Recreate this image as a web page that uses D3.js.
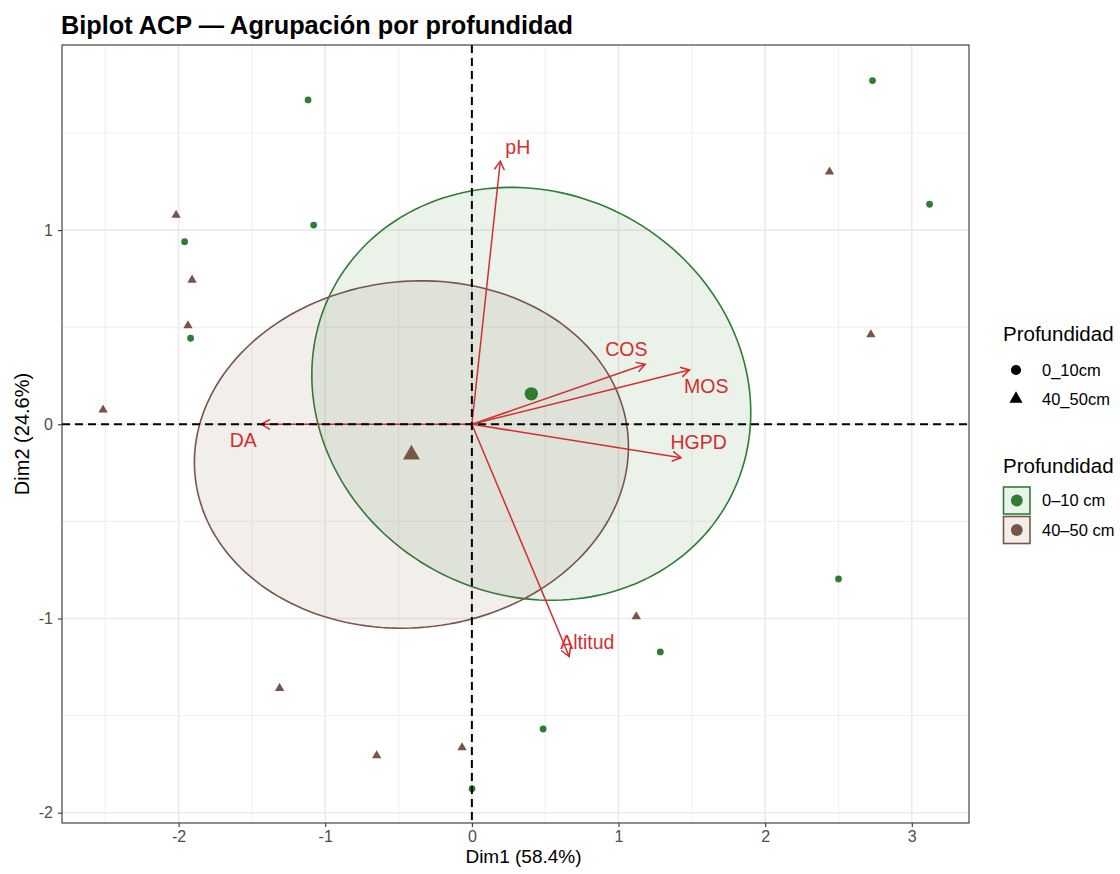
<!DOCTYPE html>
<html>
<head>
<meta charset="utf-8">
<script src="https://cdn.jsdelivr.net/npm/d3@7"></script>
<style>
body { margin: 0; background: #fff; }
text { font-family: "Liberation Sans", Arial, sans-serif; }
</style>
</head>
<body>
<svg id="chart" width="1120" height="874"></svg>
<script>
// individuals (PCA scores), 0-10 cm
var topX = [2.732, 3.121, -1.117, -1.079, -1.959, -1.918, 2.500, 1.285, 0.486, 0.001];
var topY = [1.770, 1.133, 1.670, 1.026, 0.940, 0.443, -0.796, -1.172, -1.569, -1.876];
// individuals, 40-50 cm
var deepX = [-2.017, -1.908, -1.936, -2.515, 2.439, 2.721, 1.121, -1.311, -0.649, -0.067];
var deepY = [1.077, 0.743, 0.508, 0.074, 1.300, 0.462, -0.990, -1.359, -1.706, -1.665];

// variables (arrows) and where their labels ended up
var varNames = ["pH", "COS", "MOS", "HGPD", "DA", "Altitud"];
var varX = [0.194, 1.182, 1.484, 1.426, -1.436, 0.664];
var varY = [1.355, 0.309, 0.280, -0.172, 0.000, -1.196];
var labX = [0.313, 1.053, 1.598, 1.546, -1.559, 0.787];
var labY = [1.428, 0.388, 0.199, -0.093, -0.079, -1.119];

// groups + ellipse shape (covariance-like matrix, data units)
var groupNames = ["0–10 cm", "40–50 cm"];
var shapeNames = ["0_10cm", "40_50cm"];
var ellSxx = [2.24, 2.19];
var ellSyy = [1.13, 0.80];
var ellSxy = [-0.145, 0.06];

var xTicks = [-2, -1, 0, 1, 2, 3];
var yTicks = [-2, -1, 0, 1];

var colGreen = "#2E7D32", colBrown = "#795548", colRed = "#D32F2F";
var groupCols = [colGreen, colBrown];

var svg = d3.select("#chart");
var L = 62, R = 969, T = 45, B = 823;

var x = d3.scaleLinear().domain([-2.795, 3.39]).range([L, R]);
var y = d3.scaleLinear().domain([-2.053, 1.953]).range([B, T]);

// panel grid
var grid = svg.append("g");
var xMinor = d3.range(-2.5, 3.4, 1), yMinor = d3.range(-1.5, 1.9, 1);
grid.selectAll(".xm").data(xMinor).enter().append("line")
  .attr("x1", d => x(d)).attr("x2", d => x(d)).attr("y1", T).attr("y2", B)
  .attr("stroke", "#ebebeb").attr("stroke-width", 0.8);
grid.selectAll(".ym").data(yMinor).enter().append("line")
  .attr("y1", d => y(d)).attr("y2", d => y(d)).attr("x1", L).attr("x2", R)
  .attr("stroke", "#ebebeb").attr("stroke-width", 0.8);
grid.selectAll(".xM").data(xTicks).enter().append("line")
  .attr("x1", d => x(d)).attr("x2", d => x(d)).attr("y1", T).attr("y2", B)
  .attr("stroke", "#ebebeb").attr("stroke-width", 1.6);
grid.selectAll(".yM").data(yTicks).enter().append("line")
  .attr("y1", d => y(d)).attr("y2", d => y(d)).attr("x1", L).attr("x2", R)
  .attr("stroke", "#ebebeb").attr("stroke-width", 1.6);

var plot = svg.append("g");

// ellipses
var groupsX = [topX, deepX], groupsY = [topY, deepY];
var line = d3.line().x(d => x(d[0])).y(d => y(d[1])).curve(d3.curveLinearClosed);
for (var g = 0; g < 2; g++){
    var cx = d3.mean(groupsX[g]), cy = d3.mean(groupsY[g]);
    var l11 = Math.sqrt(ellSxx[g]);
    var l21 = ellSxy[g] / l11;
    var l22 = Math.sqrt(ellSyy[g] - l21 * l21);
    var pts = d3.range(0, 2 * Math.PI, Math.PI / 90).map(function(t){
        return [cx + l11 * Math.cos(t), cy + l21 * Math.cos(t) + l22 * Math.sin(t)];
    });
    plot.append("path").attr("d", line(pts))
      .attr("fill", groupCols[g]).attr("fill-opacity", 0.1)
      .attr("stroke", groupCols[g]).attr("stroke-width", 1.6);
}

// individuals
var circ = d3.symbol().type(d3.symbolCircle);
var tri = d3.symbol().type(d3.symbolTriangle);
plot.selectAll(".top").data(topX).enter().append("path")
  .attr("d", circ.size(36)())
  .attr("transform", (d, i) => "translate(" + x(d) + "," + y(topY[i]) + ")")
  .attr("fill", colGreen);
plot.selectAll(".deep").data(deepX).enter().append("path")
  .attr("d", tri.size(38)())
  .attr("transform", (d, i) => "translate(" + x(d) + "," + y(deepY[i]) + ")")
  .attr("fill", colBrown);

// group centroids
plot.append("path").attr("d", d3.symbol().type(d3.symbolCircle).size(140)())
  .attr("transform", "translate(" + x(d3.mean(topX)) + "," + y(d3.mean(topY)) + ")")
  .attr("fill", colGreen);
plot.append("path").attr("d", d3.symbol().type(d3.symbolTriangle).size(125)())
  .attr("transform", "translate(" + x(d3.mean(deepX)) + "," + y(d3.mean(deepY)) + ")")
  .attr("fill", colBrown);

// variable arrows
var arr = svg.append("g");
for (var i = 0; i < varNames.length; i++){
    var x0 = x(0), y0 = y(0), x1 = x(varX[i]), y1 = y(varY[i]);
    var ang = Math.atan2(y1 - y0, x1 - x0);
    var hl = 10, ha = Math.PI / 6;
    arr.append("line").attr("x1", x0).attr("y1", y0).attr("x2", x1).attr("y2", y1)
      .attr("stroke", colRed).attr("stroke-width", 1.5);
    arr.append("path")
      .attr("d", "M" + (x1 - hl * Math.cos(ang - ha)) + "," + (y1 - hl * Math.sin(ang - ha)) +
                 "L" + x1 + "," + y1 +
                 "L" + (x1 - hl * Math.cos(ang + ha)) + "," + (y1 - hl * Math.sin(ang + ha)))
      .attr("fill", "none").attr("stroke", colRed).attr("stroke-width", 1.5);
    arr.append("text").text(varNames[i])
      .attr("x", x(labX[i])).attr("y", y(labY[i])).attr("dy", "0.36em")
      .attr("text-anchor", "middle").attr("font-size", 19.5).attr("fill", colRed);
}

// reference lines at 0
svg.append("line").attr("x1", L).attr("x2", R).attr("y1", y(0)).attr("y2", y(0))
  .attr("stroke", "#000").attr("stroke-width", 2).attr("stroke-dasharray", "8,5");
svg.append("line").attr("x1", x(0)).attr("x2", x(0)).attr("y1", T).attr("y2", B)
  .attr("stroke", "#000").attr("stroke-width", 2).attr("stroke-dasharray", "8,5");

// panel border
svg.append("rect").attr("x", L).attr("y", T).attr("width", R - L).attr("height", B - T)
  .attr("fill", "none").attr("stroke", "#333").attr("stroke-width", 1.1);

// axes
var xAxis = svg.append("g").attr("transform", "translate(0," + B + ")")
  .call(d3.axisBottom(x).tickValues(xTicks).tickSize(4).tickPadding(4).tickFormat(d3.format("d")));
var yAxis = svg.append("g").attr("transform", "translate(" + L + ",0)")
  .call(d3.axisLeft(y).tickValues(yTicks).tickSize(4).tickPadding(5).tickFormat(d3.format("d")));
[xAxis, yAxis].forEach(function(a){
    a.select(".domain").remove();
    a.selectAll("line").attr("stroke", "#333").attr("stroke-width", 1.1);
    a.selectAll("text").attr("fill", "#4d4d4d").attr("font-size", 16)
      .attr("font-family", "Liberation Sans, Arial, sans-serif")
      .text(function(d){ return String(d).replace("−", "-"); });
});

svg.append("text").text("Dim1 (58.4%)")
  .attr("x", (L + R) / 2 + 8).attr("y", 863).attr("text-anchor", "middle").attr("font-size", 19);
svg.append("text").text("Dim2 (24.6%)")
  .attr("transform", "translate(29," + (T + B) / 2 + ") rotate(-90)")
  .attr("text-anchor", "middle").attr("font-size", 20);

svg.append("text").text("Biplot ACP — Agrupación por profundidad")
  .attr("x", 61).attr("y", 34).attr("font-size", 25.3).attr("font-weight", "bold");

// legend: shapes
var lg = svg.append("g");
lg.append("text").text("Profundidad").attr("x", 1003).attr("y", 341).attr("font-size", 20.5);
lg.append("path").attr("d", d3.symbol().type(d3.symbolCircle).size(80)())
  .attr("transform", "translate(1016,370)");
lg.append("path").attr("d", d3.symbol().type(d3.symbolTriangle).size(76)())
  .attr("transform", "translate(1016,399)");
shapeNames.forEach(function(s, i){
    lg.append("text").text(s).attr("x", 1042).attr("y", 370 + i * 29).attr("dy", "0.36em")
      .attr("font-size", 16.5);
});

// legend: groups / ellipses
lg.append("text").text("Profundidad").attr("x", 1003).attr("y", 473).attr("font-size", 20.5);
groupNames.forEach(function(s, i){
    var ky = 487 + i * 29.5;
    lg.append("rect").attr("x", 1003.5).attr("y", ky).attr("width", 26.5).attr("height", 27)
      .attr("fill", groupCols[i]).attr("fill-opacity", 0.1)
      .attr("stroke", groupCols[i]).attr("stroke-width", 1.6);
    lg.append("path").attr("d", d3.symbol().type(d3.symbolCircle).size(110)())
      .attr("transform", "translate(1016.8," + (ky + 13.5) + ")").attr("fill", groupCols[i]);
    lg.append("text").text(s).attr("x", 1042).attr("y", ky + 13.5).attr("dy", "0.36em")
      .attr("font-size", 16.5);
});
</script>
</body>
</html>
